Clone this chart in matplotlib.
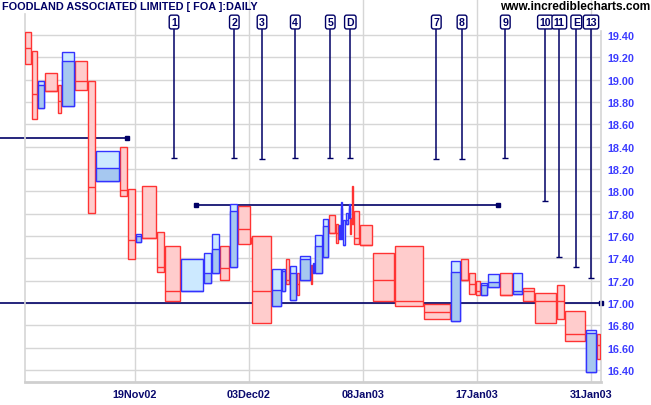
import numpy as np
import matplotlib
matplotlib.use("Agg")
import matplotlib.pyplot as plt

# ---------------------------------------------------------------------------
# Data: equivolume boxes (high / low / close, width = volume)
# ---------------------------------------------------------------------------
high = [19.43, 19.26, 18.99, 19.06, 18.95, 19.25, 19.17, 18.99, 18.36, 18.40,
        18.02, 17.62, 18.05, 17.64, 17.51, 17.39, 17.45, 17.62, 17.51, 17.89,
        17.87, 17.59, 17.60, 17.30, 17.30, 17.39, 17.33, 17.27, 17.42, 17.34,
        17.36, 17.61, 17.75, 17.79, 17.71, 17.70, 17.90, 17.74, 17.81, 17.89,
        17.76, 18.05, 17.82, 17.70, 17.45, 17.51, 16.99, 17.38, 17.39, 17.27,
        17.20, 17.18, 17.26, 17.27, 17.27, 17.13, 17.09, 17.16, 16.93, 16.76,
        16.72]
low = [19.14, 18.65, 18.75, 18.90, 18.70, 18.76, 18.91, 17.81, 18.09, 17.96,
       17.39, 17.55, 17.58, 17.28, 17.02, 17.11, 17.18, 17.27, 17.21, 17.32,
       17.53, 17.53, 16.82, 16.97, 17.11, 17.17, 17.03, 17.07, 17.21, 17.17,
       17.27, 17.27, 17.41, 17.63, 17.54, 17.57, 17.57, 17.52, 17.71, 17.76,
       17.62, 17.71, 17.53, 17.52, 17.02, 16.97, 16.86, 16.84, 17.21, 17.08,
       17.07, 17.07, 17.14, 17.07, 17.08, 17.02, 16.82, 16.86, 16.66, 16.38,
       16.50]
close = [19.28, 18.87, 18.95, 18.90, 18.81, 19.17, 18.99, 18.04, 18.21, 18.01,
         17.56, 17.60, 17.58, 17.32, 17.11, 17.11, 17.27, 17.48, 17.31, 17.82,
         17.66, 17.53, 17.11, 17.12, 17.29, 17.21, 17.27, 17.17, 17.39, 17.25,
         17.35, 17.51, 17.69, 17.63, 17.63, 17.68, 17.85, 17.52, 17.74, 17.85,
         17.65, 17.71, 17.58, 17.52, 17.21, 17.02, 16.92, 17.28, 17.21, 17.17,
         17.11, 17.16, 17.19, 17.07, 17.11, 17.11, 17.02, 17.02, 16.72, 16.73,
         16.62]
volume = [7.3, 5.4, 7.6, 13.0, 4.0, 13.0, 12.4, 8.6, 24.0, 7.2,
          8.8, 6.0, 15.0, 7.4, 16.6, 23.0, 8.0, 8.0, 10.0, 8.0,
          12.2, 1.0, 20.8, 10.0, 4.0, 4.0, 7.0, 3.0, 11.0, 1.4,
          2.6, 8.0, 6.0, 7.0, 2.7, 2.3, 2.0, 3.0, 3.0, 1.0,
          1.2, 2.8, 6.0, 13.0, 22.0, 29.0, 27.0, 10.0, 8.0, 7.0,
          5.0, 7.0, 12.0, 13.0, 10.0, 12.0, 22.0, 8.0, 21.0, 11.0,
          4.0]
up = [0, 0, 1, 0, 0, 1, 0, 0, 1, 0,
      0, 1, 0, 0, 0, 1, 1, 1, 0, 1,
      0, 0, 0, 1, 1, 0, 1, 0, 1, 0,
      1, 1, 1, 0, 0, 1, 1, 1, 1, 1,
      0, 0, 0, 0, 0, 0, 0, 1, 0, 0,
      0, 1, 1, 0, 1, 0, 0, 0, 0, 1,
      0]

date_pos = [135, 249, 363, 477, 591]
date_labels = ["19Nov02", "03Dec02", "08Jan03", "17Jan03", "31Jan03"]
price_ticks = np.round(np.arange(16.4, 19.41, 0.2), 2)

# signal markers (vertical lines with labels)
sig_labels = ["1", "2", "3", "4", "5", "D", "7", "8", "9", "10", "11", "E", "13"]
sig_x = [174, 234.3, 262, 295.3, 330.3, 350.3, 436.3, 462, 505.3, 545.3,
         559.3, 576.3, 591]
sig_end = [18.30, 18.30, 18.29, 18.30, 18.30, 18.30, 18.29, 18.29, 18.30,
           17.91, 17.41, 17.32, 17.22]

# trend lines: x0, x1, price
trend_x0 = [0, 196.3, 0]
trend_x1 = [127.3, 498.3, 601]
trend_y = [18.48, 17.88, 17.00]

# ---------------------------------------------------------------------------
# Plot
# ---------------------------------------------------------------------------
NAVY = "#000066"
RED_E, RED_F = "#ff3333", "#ffcccc"
BLU_E, BLU_L, BLU_D = "#3333ff", "#cce9ff", "#a6c8f0"
GRID = "#d6d6d6"

plt.rcParams["font.family"] = ["Liberation Sans", "DejaVu Sans"]
plt.rcParams["font.weight"] = "bold"

fig = plt.figure(figsize=(6.51, 4.06), dpi=100, facecolor="white")
ax = fig.add_axes([25 / 651, 23 / 406, 576 / 651, 383 / 406])
ax.set_xlim(25, 601)
ax.set_ylim(16.2925, 19.7224)

vol = np.array(volume)
left = 25 + np.concatenate([[0], np.cumsum(vol)[:-1]])
width = np.maximum(vol - 1.0, 0.3)
hi, lo, cl = np.array(high), np.array(low), np.array(close)
upm = np.array(up, dtype=bool)

# red boxes
ax.bar(left[~upm], (hi - lo)[~upm], width[~upm], bottom=lo[~upm], align="edge",
       color=RED_F, edgecolor=RED_E, lw=1.0, zorder=3)
ax.hlines(cl[~upm], left[~upm], (left + width)[~upm], color=RED_E, lw=1.0, zorder=3.2)
# blue boxes: light full range, darker from low to close
ax.bar(left[upm], (hi - lo)[upm], width[upm], bottom=lo[upm], align="edge",
       color=BLU_L, edgecolor=BLU_E, lw=1.0, zorder=3)
ax.bar(left[upm], (cl - lo)[upm], width[upm], bottom=lo[upm], align="edge",
       color=BLU_D, edgecolor=BLU_E, lw=1.0, zorder=3.1)

# trend lines
for x0, x1, y in zip(trend_x0, trend_x1, trend_y):
    ax.plot([x0, x1], [y, y], color=NAVY, lw=1.2, zorder=2, clip_on=False)
    ax.plot([x1], [y], "s", color=NAVY, ms=3.5, zorder=2, clip_on=False)
    if x0 > 0:
        ax.plot([x0], [y], "s", color=NAVY, ms=3.5, zorder=2, clip_on=False)

# signal lines
lab_y = 19.516
for lab, x, y1 in zip(sig_labels, sig_x, sig_end):
    ax.plot([x, x], [19.46, y1], color=NAVY, lw=1.1, zorder=4)
    ax.plot([x], [y1], "_", color=NAVY, ms=4, mew=1, zorder=4)
    ax.text(x, lab_y, lab, ha="center", va="center", fontsize=7.6,
            fontweight="bold", color=NAVY, zorder=5, clip_on=False,
            bbox=dict(boxstyle="round,pad=0.18,rounding_size=0.2",
                      facecolor="white", edgecolor=NAVY, lw=1.0))

# axes styling
ax.set_yticks(price_ticks)
ax.set_yticklabels([f"{v:.2f}" for v in price_ticks])
ax.yaxis.tick_right()
ax.set_xticks(date_pos)
ax.set_xticklabels(date_labels)
ax.tick_params(axis="y", length=0, pad=4.3, labelsize=7.8, labelcolor="#3c3cff")
ax.tick_params(axis="x", length=0, pad=5, labelsize=7.8, labelcolor="#0a0a6e")
ax.grid(True, color=GRID, lw=1.0)
ax.set_axisbelow(True)

ax.spines["top"].set_visible(False)
ax.spines["bottom"].set_color("#cfcfcf")
ax.spines["bottom"].set_linewidth(2.0)
ax.spines["left"].set_color(GRID)
ax.spines["left"].set_linewidth(1.2)
ax.spines["left"].set_bounds(16.2925, 19.588)
ax.spines["right"].set_color(GRID)
ax.spines["right"].set_linewidth(1.2)
ax.spines["right"].set_bounds(16.2925, 19.436)

fig.text(2 / 651, 1 - 7 / 406, "FOODLAND ASSOCIATED LIMITED [ FOA ]:DAILY",
         ha="left", va="center", fontsize=7.8, fontweight="bold", color=NAVY)
fig.text(650 / 651, 1 - 7 / 406, "www.incrediblecharts.com",
         ha="right", va="center", fontsize=8.6, fontweight="bold", color="black")

fig.savefig("out.png", dpi=100, facecolor="white")
